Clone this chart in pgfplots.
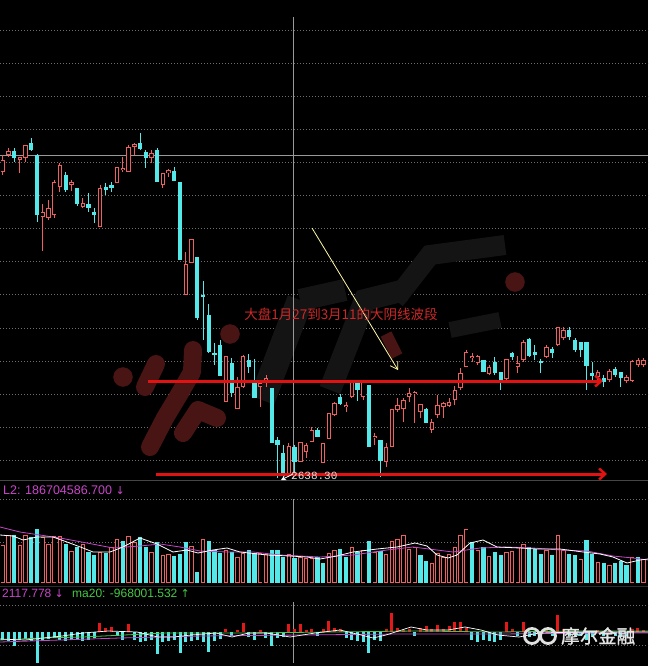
\documentclass[border=0pt]{standalone}
\usepackage{pgfplots}
\pgfplotsset{compat=1.18}
\usepackage{pgfplotstable}
\usepackage{fontspec}
\setmainfont{Liberation Sans}
\newfontfamily\cjk{Noto Sans CJK SC}
\newfontfamily\cjkb[FakeBold=1.5]{Noto Sans CJK SC}
\newfontfamily\monof{Liberation Mono}
\newfontfamily\symf{DejaVu Sans}
\usetikzlibrary{arrows.meta}
\definecolor{upred}{RGB}{238,95,95}
\definecolor{dncyan}{RGB}{84,232,232}
\definecolor{annred}{RGB}{205,40,40}
\definecolor{lnred}{RGB}{225,18,18}
\definecolor{wm}{RGB}{72,20,20}
\definecolor{wmg}{RGB}{20,20,20}
\definecolor{magl}{RGB}{200,70,200}
\definecolor{greenl}{RGB}{70,200,70}
\definecolor{gridc}{RGB}{110,110,110}
\definecolor{macdred}{RGB}{225,25,25}

% candles: i, body top, body bottom, high, low (pixel rows)
\pgfplotstableread{
i t b h l
0 160 172 155 175
1 151 155 148 157
3 157 160 157 173
4 145 158 145 162
7 212 217 204 251
8 208 218 200 220
9 182 215 180 218
10 165 187 163 192
12 182 185 180 191
14 203 207 198 208
17 188 227 185 227
20 167 183 167 183
21 168 170 157 172
22 147 172 145 172
23 144 147 143 155
26 153 158 150 163
28 173 185 173 188
29 170 173 169 177
32 264 295 252 295
33 239 263 239 263
39 356 402 356 402
41 387 409 377 409
42 356 387 355 388
45 383 387 380 407
46 378 381 375 387
50 446 475 443 477
52 442 462 442 462
53 445 452 443 458
54 430 442 427 442
56 443 463 443 463
57 413 439 413 439
58 403 415 402 416
60 405 407 402 412
61 382 397 380 398
63 382 397 382 400
65 436 438 433 445
67 447 462 443 467
68 409 447 409 447
69 405 410 398 412
70 400 409 398 422
71 393 397 388 402
72 392 394 391 423
73 404 412 404 418
75 422 430 419 433
76 405 415 395 418
77 403 407 402 418
78 402 406 398 407
79 390 400 386 405
80 373 388 368 390
81 352 367 350 367
82 356 358 353 362
83 356 363 355 365
85 367 374 365 375
88 359 379 359 380
90 363 367 356 373
91 342 360 340 362
95 347 357 345 358
97 327 345 327 346
98 330 338 327 340
104 372 377 370 380
106 371 380 369 382
109 377 381 375 383
110 361 381 360 382
111 360 365 358 367
112 360 365 358 367
}\redc
\pgfplotstableread{
i t b h l
2 151 158 148 162
5 143 150 138 151
6 155 215 154 222
11 175 190 172 192
13 188 204 188 206
15 204 208 193 212
16 212 215 208 223
18 187 190 183 195
19 185 188 182 192
24 143 149 133 150
25 152 158 150 168
27 150 182 148 182
30 171 181 167 181
31 182 260 182 260
34 257 318 257 320
35 295 297 281 340
36 315 352 304 353
37 353 355 343 365
38 345 376 340 376
40 363 393 358 397
43 360 367 354 373
44 383 398 359 398
47 388 443 388 443
48 440 445 437 478
49 453 473 445 478
51 447 462 445 473
55 430 437 428 437
59 397 404 394 405
62 383 390 383 401
64 385 447 385 447
66 440 461 440 477
74 409 423 408 423
84 360 372 360 372
86 362 373 357 375
87 372 380 372 390
89 353 357 352 360
92 339 356 338 357
93 352 355 345 360
94 361 363 359 373
96 349 353 347 358
99 330 337 327 340
100 340 350 338 352
101 342 350 342 357
102 342 366 342 390
103 373 376 362 382
105 378 382 375 387
107 369 375 367 377
108 372 378 372 387
}\cyanc

% volume bars: i, top row (base 583)
\pgfplotstableread{
i v
0 545
1 535
3 545
4 535
7 537
8 544
9 536
10 536
12 551
14 544
17 552
19 547
20 539
22 536
23 542
26 552
28 555
29 554
33 546
35 539
39 550
41 557
42 553
45 553
46 554
50 554
52 557
53 558
54 558
57 553
58 550
61 547
63 550
65 552
67 554
68 541
69 539
70 535
71 549
72 547
75 563
76 553
77 557
78 554
79 547
80 535
81 529
83 550
85 556
88 552
89 551
90 547
91 544
95 550
97 535
98 550
101 559
104 562
106 565
110 557
112 559
}\redv
\pgfplotstableread{
i v
2 535
5 537
6 529
11 544
13 547
15 552
16 555
18 553
21 541
24 537
25 547
27 542
30 556
31 554
32 542
34 572
36 541
37 550
38 553
40 552
43 550
44 553
47 550
48 550
49 557
51 558
55 557
56 563
59 549
60 557
62 552
64 541
66 551
73 555
74 561
82 542
84 547
86 552
87 555
92 547
93 549
94 554
96 555
99 554
100 555
102 540
103 554
105 563
107 563
108 561
109 565
111 557
}\cyanv

% lower indicator bars: i, end row (base 632)
\pgfplotstableread{
i v
17 623
18 628
19 627
22 624
39 629
41 630
42 623
45 630
50 624
51 629
52 624
53 630
54 629
56 629
57 621
58 628
59 629
67 629
68 613
69 628
70 630
71 629
73 628
74 626
75 629
76 625
77 629
78 626
79 622
80 622
81 628
88 622
89 629
91 622
95 630
97 615
98 629
104 630
106 630
110 629
111 628
112 630
}\redm
\pgfplotstableread{
i v
0 640
1 641
2 646
3 640
4 639
5 641
6 663
7 640
8 639
9 638
10 640
11 641
12 640
13 639
14 641
15 640
16 638
20 636
21 640
23 640
24 642
25 641
26 640
27 654
28 642
29 641
30 640
31 653
32 642
33 641
34 640
35 642
36 652
37 641
38 639
40 636
43 637
44 640
46 638
47 646
48 638
49 637
55 636
60 638
61 640
62 641
63 642
64 653
65 640
66 641
72 636
82 640
83 642
84 640
85 641
86 642
87 640
90 636
92 637
93 636
94 638
96 636
99 636
100 637
101 636
102 640
103 637
105 636
107 636
108 637
109 636
}\cyanm

\pgfplotsset{
  eb/.style 2 args={draw=none, mark=none, forget plot,
    error bars/.cd, y dir=both, y explicit, error mark=none,
    error bar style={draw=#1, line width=#2, line cap=butt}},
}
\newcommand{\cxx}{2.7+5.723*\thisrow{i}}

\begin{document}
\begin{tikzpicture}[trim axis left, trim axis right]
\begin{axis}[
  width=648pt, height=666pt, scale only axis,
  xmin=0, xmax=648, ymin=0, ymax=666, y dir=reverse,
  axis background/.style={fill=black},
  axis line style={draw=none},
  xtick=\empty,
  ytick={30,63.1,96.2,129.3,162.4,195.5,228.6,261.7,294.8,327.9,361,394.1,427.2,460.3,499,542,605,645},
  yticklabels={}, major tick length=0pt,
  yticklabel style={inner sep=0pt, outer sep=0pt},
  ymajorgrids,
  major grid style={draw=gridc, line width=0.7pt, dash pattern=on 0.7pt off 2.3pt},
]
% watermark (dark grey letters, dark red dot chain)
\addplot[wmg, line width=26pt, forget plot] coordinates {(262,400) (300,300)};
\addplot[wmg, line width=22pt, forget plot] coordinates {(300,300) (345,290)};
\addplot[wmg, line width=22pt, forget plot] coordinates {(330,390) (365,300) (405,290)};
\addplot[wmg, line width=20pt, forget plot] coordinates {(395,300) (430,255) (505,245)};
\addplot[wmg, line width=16pt, forget plot] coordinates {(450,330) (500,320)};
\addplot[wm, line width=18pt, line cap=round, line join=round, forget plot] coordinates {(150,447) (165,418) (180,393) (192,372) (193,350)};
\addplot[wm, line width=18pt, line cap=round, line join=round, forget plot] coordinates {(183,433) (198,410) (217,418)};
\addplot[wm, line width=18pt, line cap=round, line join=round, forget plot] coordinates {(145,387) (156,364)};
\addplot[wm, only marks, mark=*, mark size=9.5pt, forget plot] coordinates {(123,377) (230,334) (515,282)};
\addplot[wm, line width=12pt, forget plot] coordinates {(386,334) (397,356)};

% crosshair and separators
\draw[gray!80] (axis cs:0,155) -- (axis cs:648,155);
\draw[gray!80] (axis cs:293,17) -- (axis cs:293,478);
\draw[gray!80] (axis cs:293,499) -- (axis cs:293,583);
\draw[gray!80] (axis cs:293,602) -- (axis cs:293,663);
\draw[gray!55!black, line width=0.8pt] (axis cs:0,480) -- (axis cs:648,480);
\draw[gray!35!black, line width=0.8pt] (axis cs:0,586) -- (axis cs:648,586);

% candles: wicks
\addplot[eb={upred}{0.9pt}] table[x expr=\cxx, y expr=(\thisrow{h}+\thisrow{l})/2, y error expr=(\thisrow{l}-\thisrow{h})/2] {\redc};
\addplot[eb={dncyan}{0.9pt}] table[x expr=\cxx, y expr=(\thisrow{h}+\thisrow{l})/2, y error expr=(\thisrow{l}-\thisrow{h})/2] {\cyanc};
% bodies
\addplot[eb={upred}{4.4pt}] table[x expr=\cxx, y expr=(\thisrow{t}+\thisrow{b})/2, y error expr=(\thisrow{b}-\thisrow{t})/2] {\redc};
\addplot[eb={black}{2.6pt}] table[x expr=\cxx, y expr=(\thisrow{t}+\thisrow{b})/2, y error expr={max((\thisrow{b}-\thisrow{t})/2-0.9,0)}] {\redc};
\addplot[eb={dncyan}{4.2pt}] table[x expr=\cxx, y expr=(\thisrow{t}+\thisrow{b})/2, y error expr=(\thisrow{b}-\thisrow{t})/2] {\cyanc};

% volume bars
\addplot[eb={upred}{4.4pt}] table[x expr=\cxx, y expr=(\thisrow{v}+583)/2, y error expr=(583-\thisrow{v})/2] {\redv};
\addplot[eb={black}{2.6pt}] table[x expr=\cxx, y expr=(\thisrow{v}+583)/2, y error expr=(583-\thisrow{v})/2-0.9] {\redv};
\addplot[eb={dncyan}{4.2pt}] table[x expr=\cxx, y expr=(\thisrow{v}+583)/2, y error expr=(583-\thisrow{v})/2] {\cyanv};
% volume averages
\addplot[magl, line width=0.8pt, forget plot] coordinates {(0,527) (20,532) (40,535) (60,538) (87,543) (113,548) (140,546) (160,544) (180,547) (200,551) (227,552) (253,552) (280,555) (320,557) (353,555) (387,550) (413,547) (453,552) (480,548) (507,547) (533,548) (560,550) (587,551) (613,556) (633,558) (648,560)};
\addplot[white, line width=0.8pt, forget plot] coordinates {(0,535) (13,536) (23,540) (37,537) (53,537) (67,542) (83,548) (93,552) (110,552) (123,547) (140,538) (157,544) (173,552) (187,550) (198,553) (213,550) (227,548) (240,552) (267,555) (290,556) (307,557) (320,559) (337,556) (353,552) (377,549) (397,547) (415,543) (427,546) (437,555) (448,558) (457,555) (470,543) (483,540) (497,547) (520,548) (537,549) (560,549) (583,552) (600,554) (613,557) (627,563) (640,560) (648,559)};

% lower indicator
\addplot[eb={macdred}{3pt}] table[x expr=\cxx, y expr=(\thisrow{v}+632)/2, y error expr=(632-\thisrow{v})/2] {\redm};
\addplot[eb={dncyan}{3pt}] table[x expr=\cxx, y expr=(\thisrow{v}+632)/2, y error expr=(\thisrow{v}-632)/2] {\cyanm};
\addplot[greenl, line width=0.8pt, forget plot] coordinates {(0,640) (41,638) (83,637) (124,635) (166,633) (249,633) (332,632) (415,631) (498,632) (581,631) (648,631)};
\addplot[magl, line width=0.8pt, forget plot] coordinates {(0,642) (60,640) (120,638) (200,636) (300,635) (400,634) (500,634) (600,633) (648,633)};
\addplot[white, line width=0.7pt, forget plot] coordinates {(0,639) (25,640) (62,636) (83,633) (108,631) (137,632) (158,637) (174,637) (191,635) (216,633) (232,637) (249,633) (266,633) (290,637) (315,633) (340,630) (361,635) (373,638) (386,635) (411,627) (427,630) (448,630) (465,627) (481,630) (498,635) (519,637) (539,633) (581,632) (622,632) (648,632)};

% annotation lines
\draw[lnred, line width=3pt, -{Straight Barb[length=6pt,width=11pt,line width=2.5pt]}] (axis cs:148,381) -- (axis cs:603,381);
\draw[lnred, line width=3pt, -{Straight Barb[length=6pt,width=11pt,line width=2.5pt]}] (axis cs:156,474) -- (axis cs:607,474);
\draw[yellow!35!white, line width=0.8pt, -{Straight Barb[length=7pt,width=9pt,line width=0.8pt]}] (axis cs:312,228) -- (axis cs:398,370);
\draw[white, line width=0.8pt, -{Stealth[length=5pt,width=5pt]}] (axis cs:293,474) -- (axis cs:281,480);

% texts
\node[text=annred, font=\cjk\fontsize{13.5}{15}\selectfont, inner sep=0pt] at (axis cs:341,314) {大盘1月27到3月11的大阴线波段};
\node[text=white!88!black, font=\monof\fontsize{11}{13}\selectfont, anchor=west, inner sep=0pt] at (axis cs:291,476) {2638.30};
\node[text=magl, font=\fontsize{12.5}{14}\selectfont, anchor=west, inner sep=0pt] at (axis cs:3,490) {L2: 186704586.700 {\symf\fontsize{11}{13}\selectfont ↓}};
\node[text=magl, font=\fontsize{12}{14}\selectfont, anchor=west, inner sep=0pt] at (axis cs:2,593) {2117.778 {\symf\fontsize{11}{13}\selectfont ↓}};
\node[text=greenl, font=\fontsize{12}{14}\selectfont, anchor=west, inner sep=0pt] at (axis cs:72,593) {ma20: -968001.532 {\symf\fontsize{11}{13}\selectfont ↑}};
% logo
\draw[white!88!black, line width=2.8pt] (axis cs:532,636) circle[radius=7.5pt];
\draw[white!88!black, line width=2.8pt] (axis cs:548,636) circle[radius=7.5pt];
\node[text=white!90!black, font=\cjkb\fontsize{18.5}{20}\selectfont, anchor=west, inner sep=0pt] at (axis cs:561,636) {摩尔金融};
\end{axis}
\end{tikzpicture}
\end{document}
